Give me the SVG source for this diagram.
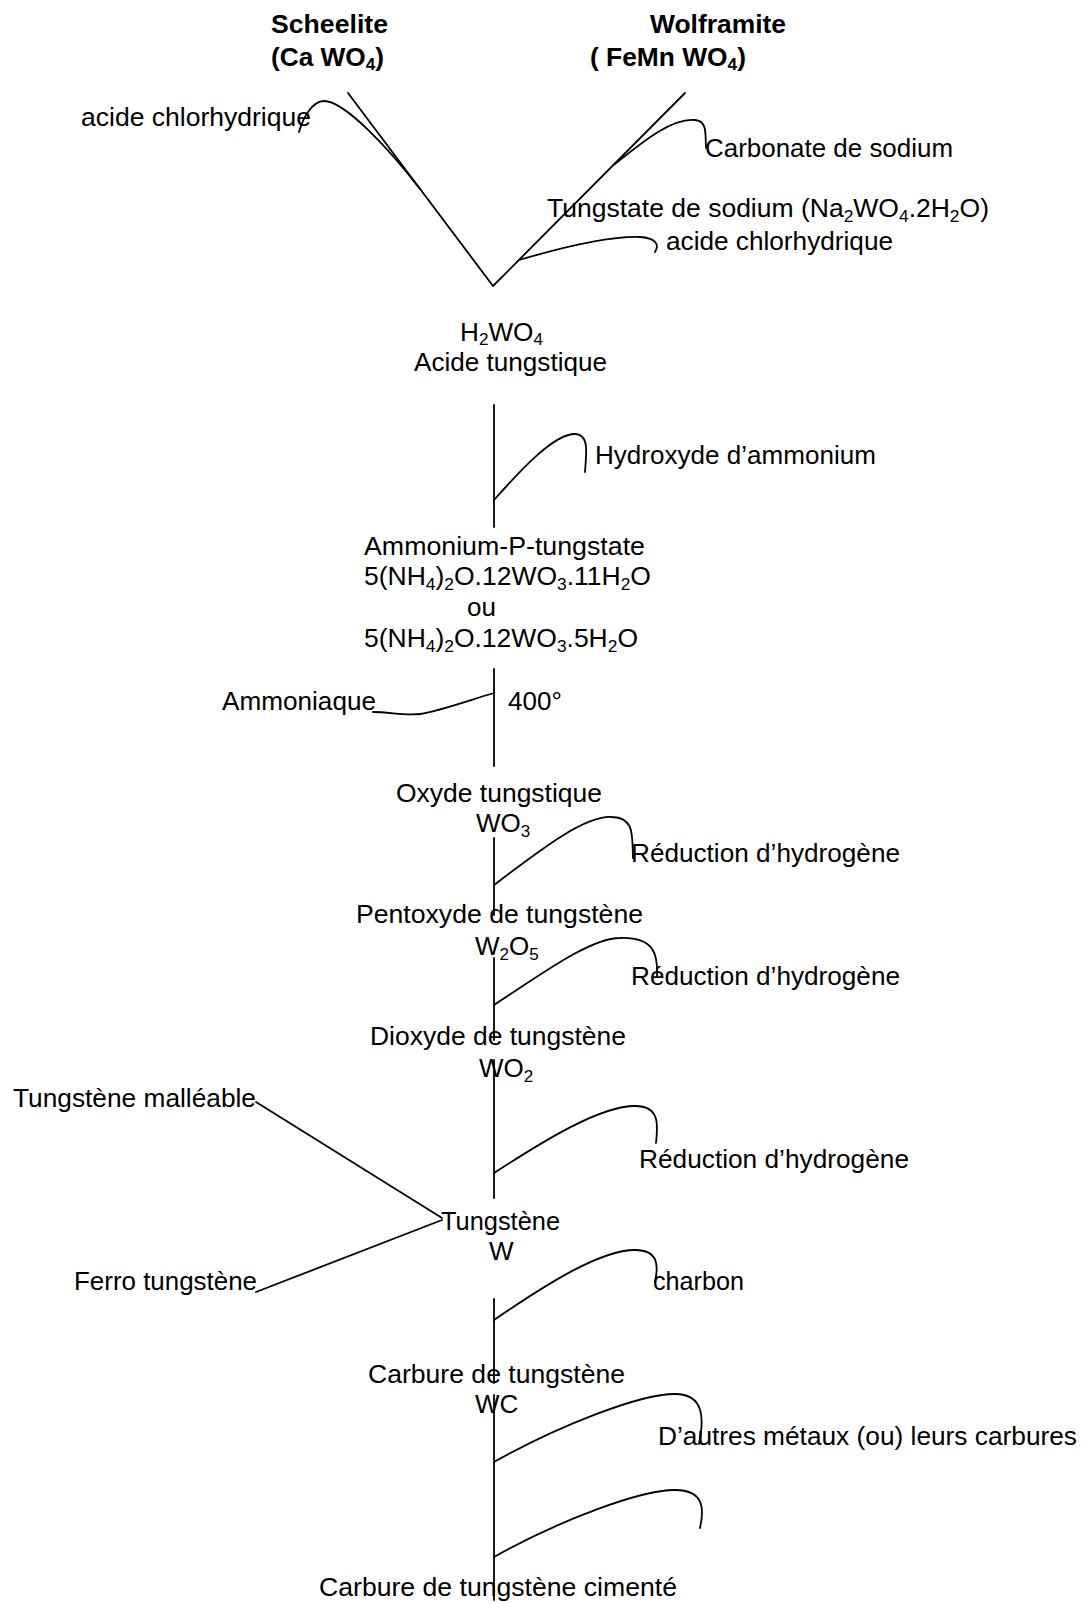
<svg xmlns="http://www.w3.org/2000/svg" width="1082" height="1603" viewBox="0 0 1082 1603">
<style>
text{font-family:"Liberation Sans",Arial,sans-serif;font-size:26px;fill:#000}
.b{font-weight:bold}
.s{font-size:17px}
.c{fill:none;stroke:#000;stroke-width:1.8;stroke-linecap:round;stroke-linejoin:round}
</style>
<rect width="1082" height="1603" fill="#fff"/>
<g id="connectors" class="c">
<path d="M348,93 L493,286 L685,93"/>
<path d="M299,132 C303,118 312,101 324,101 C345,101 390,150 420,189"/>
<path d="M615,164 C645,140 672,118 695,120 C708,121 705,135 706,148"/>
<path d="M519,260 C560,248 610,236 640,237 C655,238 660,244 655,252"/>
<path d="M494,405 V527"/>
<path d="M494,500 C525,465 555,434 575,434 C590,434 586,455 585,472"/>
<path d="M494,669 V766"/>
<path d="M373,712 C390,712 405,716 420,714 C440,711 470,700 494,693"/>
<path d="M494,838 V915"/>
<path d="M494,885 C540,850 585,815 612,817 C635,818 632,835 633,858"/>
<path d="M494,958 V1040"/>
<path d="M494,1005 C540,975 590,938 620,938 C655,937 658,955 657,977"/>
<path d="M494,1060 V1198"/>
<path d="M494,1173 C545,1140 600,1106 635,1106 C660,1106 658,1125 656,1143"/>
<path d="M256,1102 L442,1218"/>
<path d="M442,1220 L256,1292"/>
<path d="M494,1299 V1383"/>
<path d="M494,1320 C545,1285 600,1250 635,1250 C660,1250 658,1268 655,1282"/>
<path d="M494,1395 V1600"/>
<path d="M494,1462 C560,1425 640,1394 675,1394 C705,1394 704,1420 699,1444"/>
<path d="M494,1557 C560,1520 640,1490 675,1490 C705,1490 704,1510 700,1528"/>
</g>
<g id="scheelite"><text class="b" x="271" y="33" textLength="117" lengthAdjust="spacingAndGlyphs">Scheelite</text><text class="b" x="271" y="66" textLength="113" lengthAdjust="spacingAndGlyphs">(Ca WO<tspan class="s" dy="4">4</tspan><tspan dy="-4">)</tspan></text></g>
<g id="wolframite"><text class="b" x="650" y="33" textLength="136" lengthAdjust="spacingAndGlyphs">Wolframite</text><text class="b" x="590" y="66" textLength="156" lengthAdjust="spacingAndGlyphs">( FeMn WO<tspan class="s" dy="4">4</tspan><tspan dy="-4">)</tspan></text></g>
<g id="hcl1"><text x="81" y="126" textLength="230" lengthAdjust="spacingAndGlyphs">acide chlorhydrique</text></g>
<g id="carbonate"><text x="705" y="157" textLength="248" lengthAdjust="spacingAndGlyphs">Carbonate de sodium</text></g>
<g id="tungstate-sodium"><text x="547" y="217" textLength="442" lengthAdjust="spacingAndGlyphs">Tungstate de sodium (Na<tspan class="s" dy="5">2</tspan><tspan dy="-5">WO</tspan><tspan class="s" dy="5">4</tspan><tspan dy="-5">.2H</tspan><tspan class="s" dy="5">2</tspan><tspan dy="-5">O)</tspan></text></g>
<g id="hcl2"><text x="666" y="250" textLength="227" lengthAdjust="spacingAndGlyphs">acide chlorhydrique</text></g>
<g id="acide-tungstique"><text x="460" y="341" textLength="83" lengthAdjust="spacingAndGlyphs">H<tspan class="s" dy="4">2</tspan><tspan dy="-4">WO</tspan><tspan class="s" dy="4">4</tspan></text><text x="414" y="371" textLength="193" lengthAdjust="spacingAndGlyphs">Acide tungstique</text></g>
<g id="hydroxyde"><text x="595" y="464" textLength="281" lengthAdjust="spacingAndGlyphs">Hydroxyde d’ammonium</text></g>
<g id="apt"><text x="364" y="555" textLength="281" lengthAdjust="spacingAndGlyphs">Ammonium-P-tungstate</text><text x="364" y="585" textLength="287" lengthAdjust="spacingAndGlyphs">5(NH<tspan class="s" dy="5">4</tspan><tspan dy="-5">)</tspan><tspan class="s" dy="5">2</tspan><tspan dy="-5">O.12WO</tspan><tspan class="s" dy="5">3</tspan><tspan dy="-5">.11H</tspan><tspan class="s" dy="5">2</tspan><tspan dy="-5">O</tspan></text><text x="467" y="616">ou</text><text x="364" y="647" textLength="274" lengthAdjust="spacingAndGlyphs">5(NH<tspan class="s" dy="5">4</tspan><tspan dy="-5">)</tspan><tspan class="s" dy="5">2</tspan><tspan dy="-5">O.12WO</tspan><tspan class="s" dy="5">3</tspan><tspan dy="-5">.5H</tspan><tspan class="s" dy="5">2</tspan><tspan dy="-5">O</tspan></text></g>
<g id="ammoniaque"><text x="222" y="710" textLength="154" lengthAdjust="spacingAndGlyphs">Ammoniaque</text></g>
<g id="temp"><text x="508" y="710">400°</text></g>
<g id="oxyde"><text x="396" y="802" textLength="206" lengthAdjust="spacingAndGlyphs">Oxyde tungstique</text><text x="476" y="832">WO<tspan class="s" dy="5">3</tspan></text></g>
<g id="reduction1"><text x="631" y="862" textLength="269" lengthAdjust="spacingAndGlyphs">Réduction d’hydrogène</text></g>
<g id="pentoxyde"><text x="356" y="923" textLength="287" lengthAdjust="spacingAndGlyphs">Pentoxyde de tungstène</text><text x="475" y="955">W<tspan class="s" dy="5">2</tspan><tspan dy="-5">O</tspan><tspan class="s" dy="5">5</tspan></text></g>
<g id="reduction2"><text x="631" y="985" textLength="269" lengthAdjust="spacingAndGlyphs">Réduction d’hydrogène</text></g>
<g id="dioxyde"><text x="370" y="1045" textLength="256" lengthAdjust="spacingAndGlyphs">Dioxyde de tungstène</text><text x="479" y="1077">WO<tspan class="s" dy="5">2</tspan></text></g>
<g id="malleable"><text x="13" y="1107" textLength="243" lengthAdjust="spacingAndGlyphs">Tungstène malléable</text></g>
<g id="reduction3"><text x="639" y="1168" textLength="270" lengthAdjust="spacingAndGlyphs">Réduction d’hydrogène</text></g>
<g id="tungstene"><text x="441" y="1230" textLength="119" lengthAdjust="spacingAndGlyphs">Tungstène</text><text x="489" y="1260">W</text></g>
<g id="ferro"><text x="74" y="1290" textLength="183" lengthAdjust="spacingAndGlyphs">Ferro tungstène</text></g>
<g id="charbon"><text x="653" y="1290" textLength="91" lengthAdjust="spacingAndGlyphs">charbon</text></g>
<g id="carbure"><text x="368" y="1383" textLength="257" lengthAdjust="spacingAndGlyphs">Carbure de tungstène</text><text x="475" y="1413">WC</text></g>
<g id="autres"><text x="658" y="1445" textLength="419" lengthAdjust="spacingAndGlyphs">D’autres métaux (ou) leurs carbures</text></g>
<g id="cimente"><text x="319" y="1596" textLength="358" lengthAdjust="spacingAndGlyphs">Carbure de tungstène cimenté</text></g>
</svg>
